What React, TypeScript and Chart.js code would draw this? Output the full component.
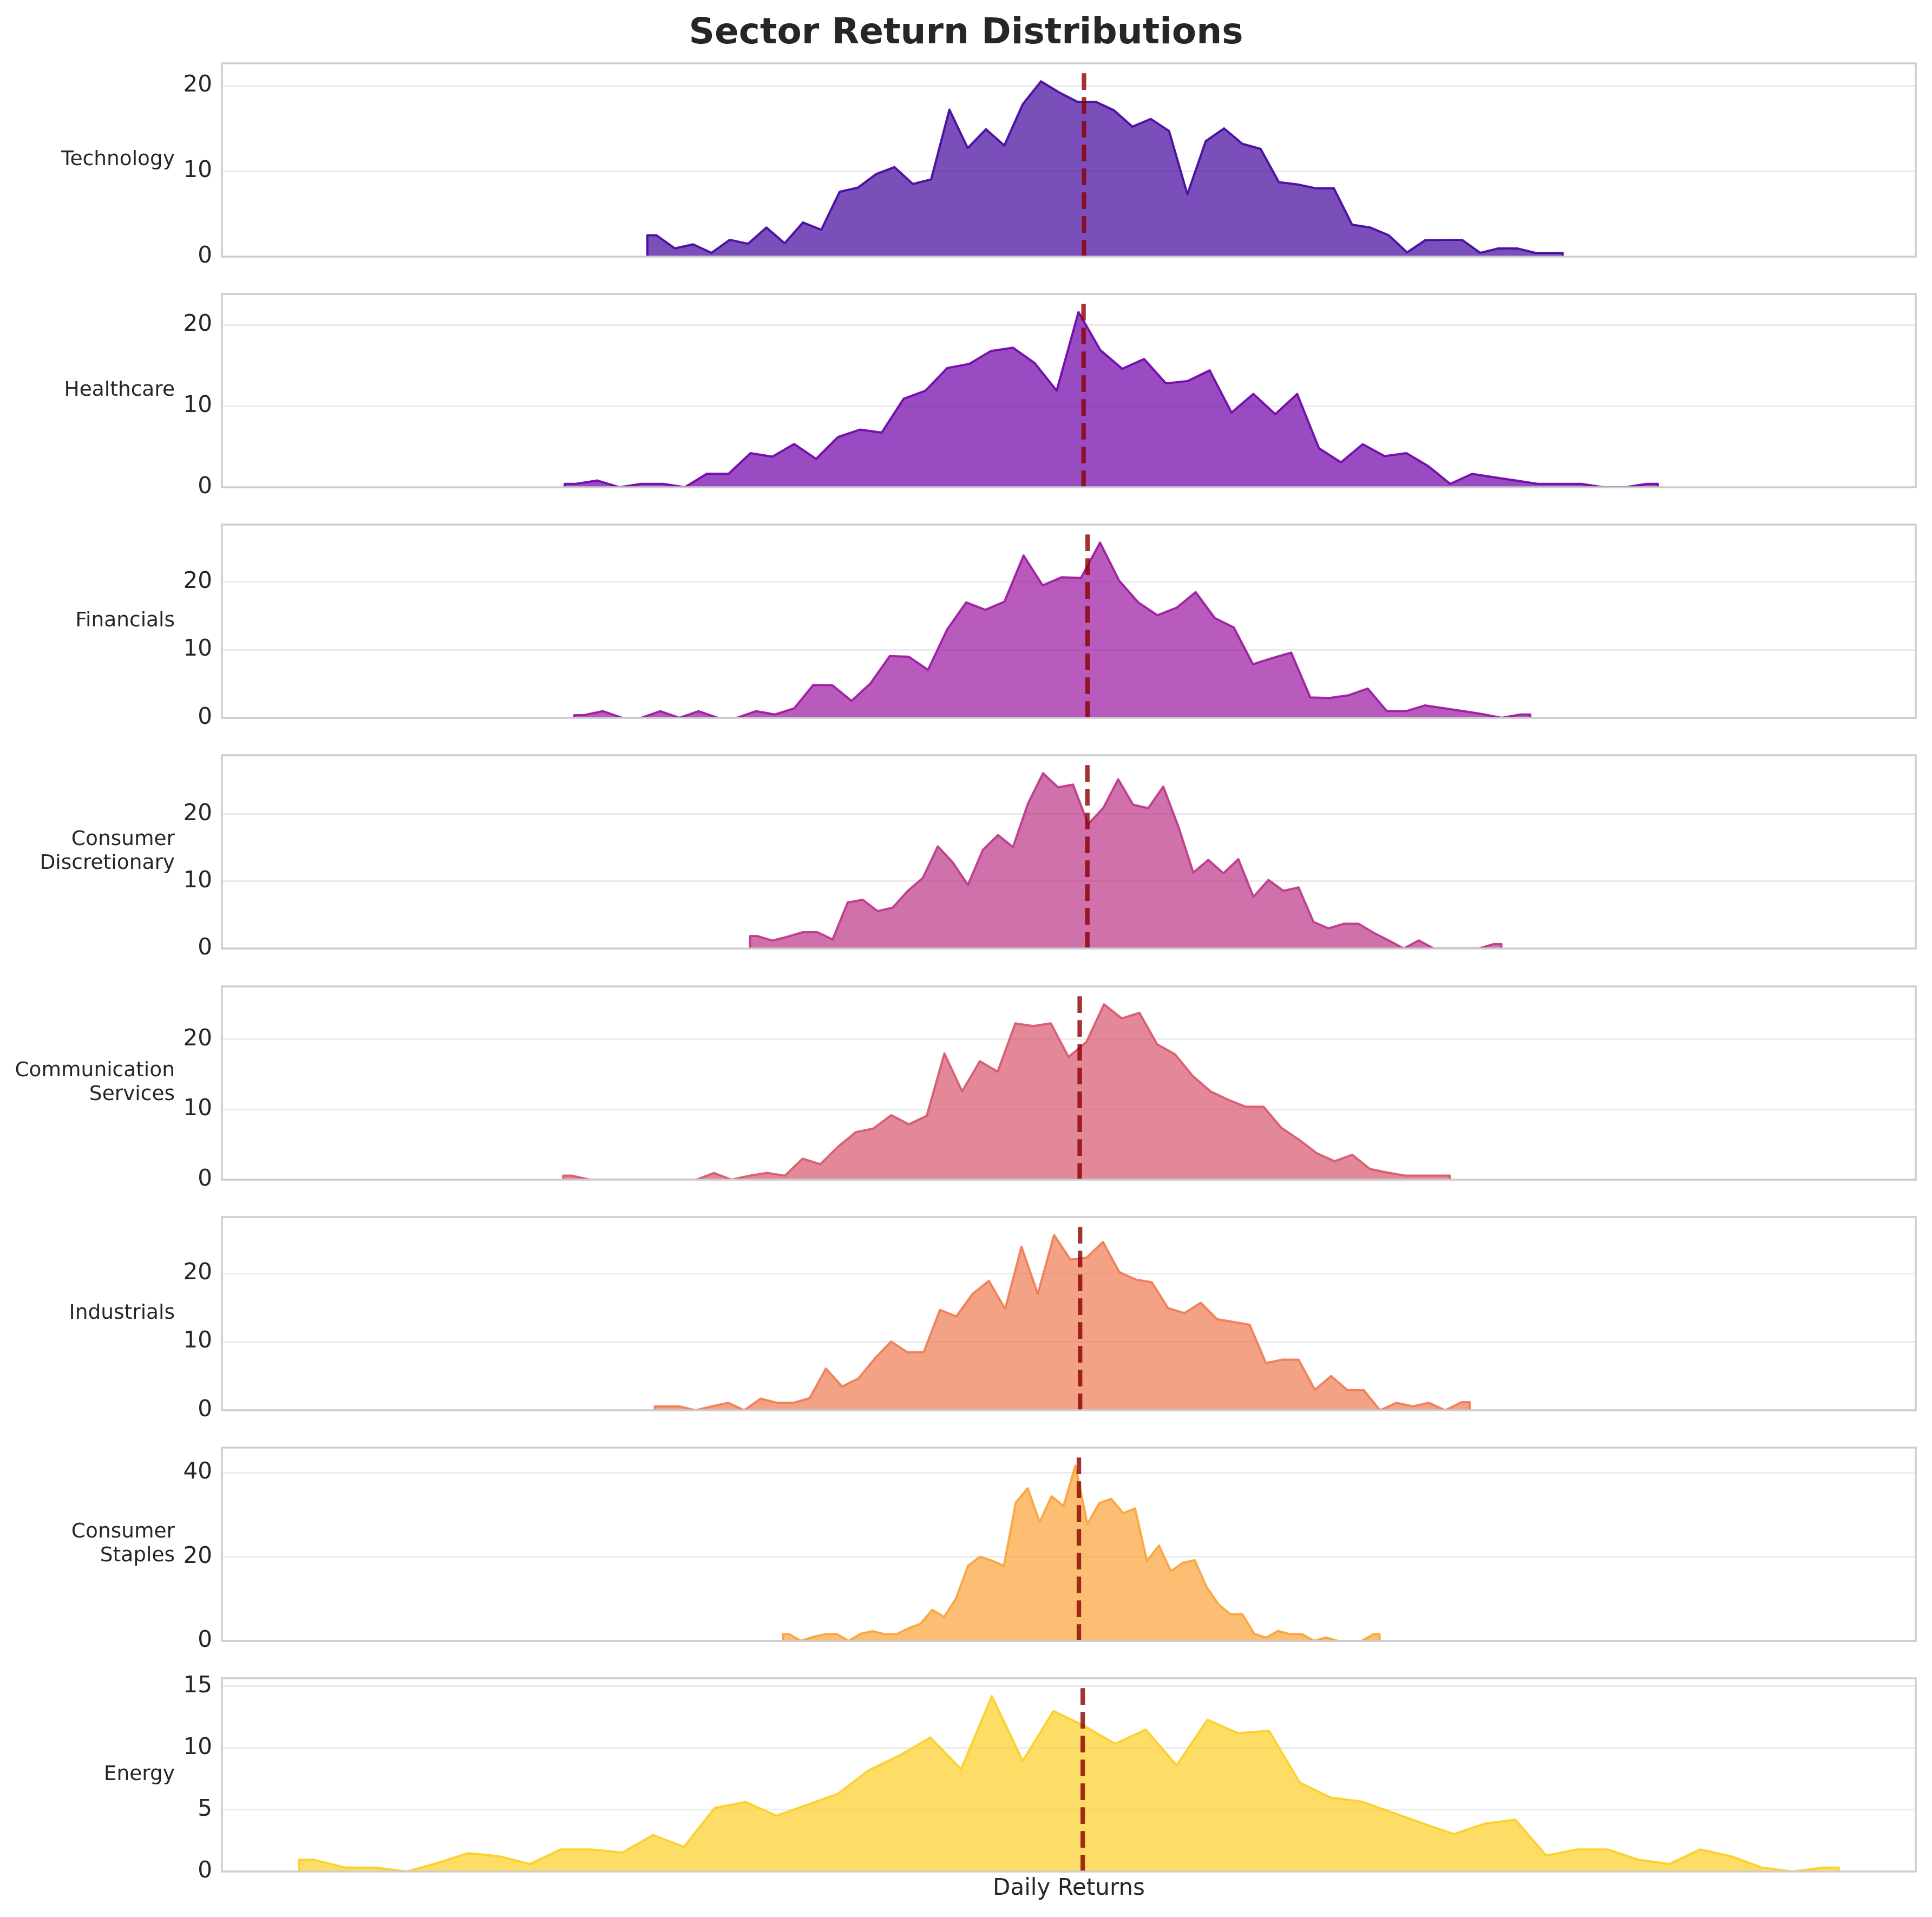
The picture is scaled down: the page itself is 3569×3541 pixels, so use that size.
import React, { useEffect, useRef } from 'react';
import { Chart, registerables } from 'chart.js';

Chart.register(...registerables);

// ---- data -------------------------------------------------------------
const sectors = [
  'Technology',
  'Healthcare',
  'Financials',
  'Consumer Discretionary',
  'Communication Services',
  'Industrials',
  'Consumer Staples',
  'Energy',
];

// histogram densities (50 equal bins per sector, bin centres between lo and hi)
const technology = [2.5, 0.97, 1.44, 0.44, 1.97, 1.5, 3.41, 1.57, 4.0, 3.14, 7.58, 8.07, 9.66, 10.47, 8.5, 9.03, 17.2, 12.7, 14.9, 13.0, 17.8, 20.5, 19.2, 18.1, 18.1, 17.1, 15.2, 16.1, 14.7, 7.3, 13.5, 15.0, 13.2, 12.6, 8.7, 8.45, 8.0, 8.0, 3.73, 3.4, 2.5, 0.5, 1.93, 1.97, 1.97, 0.44, 0.97, 0.97, 0.44, 0.44];
const healthcare = [0.42, 0.83, 0, 0.42, 0.42, 0, 1.67, 1.67, 4.2, 3.77, 5.33, 3.5, 6.2, 7.1, 6.74, 10.9, 11.9, 14.7, 15.2, 16.8, 17.2, 15.3, 11.9, 21.6, 16.9, 14.6, 15.8, 12.8, 13.1, 14.4, 9.2, 11.5, 9.0, 11.5, 4.8, 3.07, 5.3, 3.84, 4.2, 2.6, 0.42, 1.65, 1.23, 0.83, 0.42, 0.42, 0.42, 0, 0, 0.42];
const financials = [0.4, 0.99, 0, 0, 0.99, 0, 0.99, 0, 0, 0.99, 0.5, 1.4, 4.85, 4.8, 2.5, 5.1, 9.1, 9.0, 7.07, 13.0, 17.0, 15.9, 17.1, 23.9, 19.5, 20.7, 20.6, 25.8, 20.2, 17.0, 15.1, 16.2, 18.5, 14.7, 13.3, 7.9, 8.8, 9.6, 3.0, 2.93, 3.33, 4.32, 0.99, 0.99, 1.84, 1.41, 0.99, 0.56, 0, 0.5];
const consumerDiscretionary = [1.85, 1.18, 1.75, 2.42, 2.42, 1.34, 6.85, 7.26, 5.56, 6.1, 8.58, 10.5, 15.2, 12.8, 9.46, 14.7, 16.9, 15.1, 21.6, 26.1, 24.0, 24.4, 18.5, 20.9, 25.2, 21.4, 20.9, 24.1, 18.2, 11.3, 13.2, 11.2, 13.3, 7.7, 10.2, 8.58, 9.1, 3.95, 3.0, 3.68, 3.68, 2.34, 1.2, 0, 1.2, 0, 0, 0, 0, 0.67];
const communicationServices = [0.57, 0, 0, 0, 0, 0, 0, 0, 0.96, 0, 0.57, 0.96, 0.57, 3.0, 2.2, 4.7, 6.77, 7.3, 9.2, 7.9, 9.1, 18.0, 12.6, 16.9, 15.4, 22.3, 21.9, 22.3, 17.5, 19.6, 25.0, 23.0, 23.8, 19.3, 17.9, 14.8, 12.6, 11.4, 10.4, 10.4, 7.4, 5.7, 3.77, 2.64, 3.54, 1.52, 1.0, 0.57, 0.57, 0.57];
const industrials = [0.58, 0.58, 0, 0.58, 1.1, 0, 1.7, 1.1, 1.1, 1.76, 6.1, 3.47, 4.66, 7.55, 10.05, 8.47, 8.47, 14.66, 13.7, 17.0, 18.9, 14.8, 23.9, 17.0, 25.6, 22.0, 22.3, 24.6, 20.2, 19.1, 18.7, 14.9, 14.2, 15.7, 13.3, 12.9, 12.5, 6.9, 7.4, 7.4, 3.0, 5.0, 2.95, 2.95, 0, 1.1, 0.58, 1.1, 0, 1.18];
const consumerStaples = [1.6, 0, 0.95, 1.6, 1.6, 0, 1.72, 2.32, 1.6, 1.6, 3.0, 4.04, 7.4, 5.7, 10.2, 17.9, 20.0, 19.1, 17.85, 32.9, 36.3, 28.3, 34.4, 32.1, 41.7, 27.8, 32.8, 33.8, 30.4, 31.5, 19.0, 22.7, 16.6, 18.6, 19.2, 12.8, 8.7, 6.3, 6.3, 1.68, 0.8, 2.37, 1.6, 1.6, 0, 0.8, 0, 0, 0, 1.6];
const energy = [0.95, 0.32, 0.32, 0, 0.69, 1.49, 1.24, 0.61, 1.79, 1.79, 1.54, 2.96, 2.0, 5.15, 5.64, 4.52, 5.4, 6.3, 8.2, 9.4, 10.86, 8.3, 14.2, 8.96, 13.0, 11.8, 10.35, 11.5, 8.6, 12.3, 11.2, 11.4, 7.2, 6.0, 5.67, 4.79, 3.9, 3.03, 3.88, 4.2, 1.3, 1.79, 1.79, 0.95, 0.61, 1.79, 1.24, 0.32, 0, 0.32];

// daily return range (%) covered by each sector's bins
const binLo = [-5.82, -6.94, -6.81, -4.43, -6.96, -5.72, -3.98, -10.54];
const binHi = [6.58, 7.87, 6.14, 5.75, 5.05, 5.32, 4.1, 10.32];
// mean daily return (%) per sector
const sectorMeans = [0.095, 0.089, 0.144, 0.141, 0.037, 0.042, 0.026, 0.078];
// y tick spacing per panel
const tickSteps = [10, 10, 10, 10, 10, 10, 20, 5];
// plasma colours, one per sector
const palette = ['#41049d', '#6e00a8', '#9a169f', '#bc3587', '#d7566c', '#ee7b51', '#fba238', '#fcce25'];

const series = [technology, healthcare, financials, consumerDiscretionary, communicationServices, industrials, consumerStaples, energy];

// ---- layout -----------------------------------------------------------
const PAGE_W = 3569;
const PAGE_H = 3541;
const PANEL_TOP = 116.8;
const PANEL_STEP = 426.2;
const PANEL_H = 357;
const AXIS_LEFT = 410;
const AXIS_RIGHT = 3539;
const PAD_T = 117;
const PAD_B = 84;
const CANVAS_H = PAD_T + PANEL_H + PAD_B;
const FONT = '"DejaVu Sans", "Liberation Sans", sans-serif';
const TEXT = '#262626';

const canvasTop = (i: number) => Math.round(PANEL_TOP + i * PANEL_STEP) - PAD_T;

// shared x range: widest span with 5% margins
const allLo = Math.min(...binLo);
const allHi = Math.max(...binHi);
const span = allHi - allLo;
const xMin = allLo - 0.05 * span;
const xMax = allHi + 0.05 * span;

function rgba(hex: string, a: number) {
  const n = parseInt(hex.slice(1), 16);
  return `rgba(${(n >> 16) & 255}, ${(n >> 8) & 255}, ${n & 255}, ${a})`;
}

function buildPoints(vals: number[], lo: number, hi: number) {
  const w = (hi - lo) / vals.length;
  const pts: { x: number; y: number }[] = [{ x: lo, y: 0 }, { x: lo, y: vals[0] }];
  vals.forEach((v, k) => pts.push({ x: lo + (k + 0.5) * w, y: v }));
  pts.push({ x: hi, y: vals[vals.length - 1] }, { x: hi, y: 0 });
  return pts;
}

function makeConfig(i: number): any {
  const vals = series[i];
  const peak = Math.max(...vals);
  const lineTop = peak * 1.05;
  const yMax = lineTop * 1.05;
  const color = palette[i];

  const decor = {
    id: 'decor' + i,
    afterDraw(chart: any) {
      const { ctx, chartArea } = chart;
      const { left, top, right, bottom } = chartArea;
      ctx.save();
      // frame
      ctx.strokeStyle = '#cccccc';
      ctx.lineWidth = 3.4;
      ctx.strokeRect(left, top, right - left, bottom - top);
      // sector name
      ctx.fillStyle = TEXT;
      ctx.font = `37.5px ${FONT}`;
      ctx.textAlign = 'right';
      ctx.textBaseline = 'middle';
      const lines = sectors[i].split(' ');
      const mid = (top + bottom) / 2;
      lines.forEach((ln, j) => {
        ctx.fillText(ln, 323, mid + (j - (lines.length - 1) / 2) * 44);
      });
      if (i === 0) {
        ctx.font = `bold 66px ${FONT}`;
        ctx.textAlign = 'center';
        ctx.textBaseline = 'alphabetic';
        ctx.fillText('Sector Return Distributions', PAGE_W / 2, 80);
      }
      if (i === series.length - 1) {
        ctx.font = `42px ${FONT}`;
        ctx.textAlign = 'center';
        ctx.textBaseline = 'alphabetic';
        ctx.fillText('Daily Returns', (left + right) / 2, bottom + 43);
      }
      ctx.restore();
    },
  };

  return {
    type: 'line',
    data: {
      datasets: [
        {
          label: 'mean',
          data: [
            { x: sectorMeans[i], y: 0 },
            { x: sectorMeans[i], y: lineTop },
          ],
          borderColor: 'rgba(139, 0, 0, 0.8)',
          borderWidth: 8.3,
          borderDash: [30.7, 13.3],
          borderCapStyle: 'butt',
          pointRadius: 0,
          fill: false,
          order: 0,
        },
        {
          label: sectors[i],
          data: buildPoints(vals, binLo[i], binHi[i]),
          borderColor: rgba(color, 0.9),
          backgroundColor: rgba(color, 0.7),
          borderWidth: 4,
          borderJoinStyle: 'round',
          pointRadius: 0,
          tension: 0,
          fill: 'origin',
          order: 1,
        },
      ],
    },
    options: {
      animation: false,
      responsive: false,
      maintainAspectRatio: false,
      devicePixelRatio: 1,
      events: [],
      layout: { padding: { left: 0, right: PAGE_W - AXIS_RIGHT, top: PAD_T, bottom: PAD_B } },
      plugins: {
        legend: { display: false },
        tooltip: { enabled: false },
        title: { display: false },
      },
      scales: {
        x: { type: 'linear', display: false, min: xMin, max: xMax },
        y: {
          type: 'linear',
          min: 0,
          max: yMax,
          afterFit: (s: any) => {
            s.width = AXIS_LEFT;
          },
          ticks: {
            stepSize: tickSteps[i],
            includeBounds: false,
            padding: 18,
            color: TEXT,
            font: { family: FONT, size: 42 },
          },
          grid: { color: '#ebebeb', lineWidth: 3, drawTicks: false },
          border: { display: false },
        },
      },
    },
    plugins: [decor],
  };
}

function Panel({ index }: { index: number }) {
  const ref = useRef<HTMLCanvasElement>(null);
  useEffect(() => {
    const chart = new Chart(ref.current as HTMLCanvasElement, makeConfig(index));
    return () => chart.destroy();
  }, [index]);
  return (
    <canvas
      ref={ref}
      width={PAGE_W}
      height={CANVAS_H}
      style={{ position: 'absolute', left: 0, top: canvasTop(index), width: PAGE_W, height: CANVAS_H }}
    />
  );
}

export default function App() {
  return (
    <div
      style={{
        position: 'absolute',
        left: 0,
        top: 0,
        width: PAGE_W,
        height: PAGE_H,
        overflow: 'hidden',
        background: '#ffffff',
      }}
    >
      {sectors.map((_, i) => (
        <Panel key={i} index={i} />
      ))}
    </div>
  );
}
